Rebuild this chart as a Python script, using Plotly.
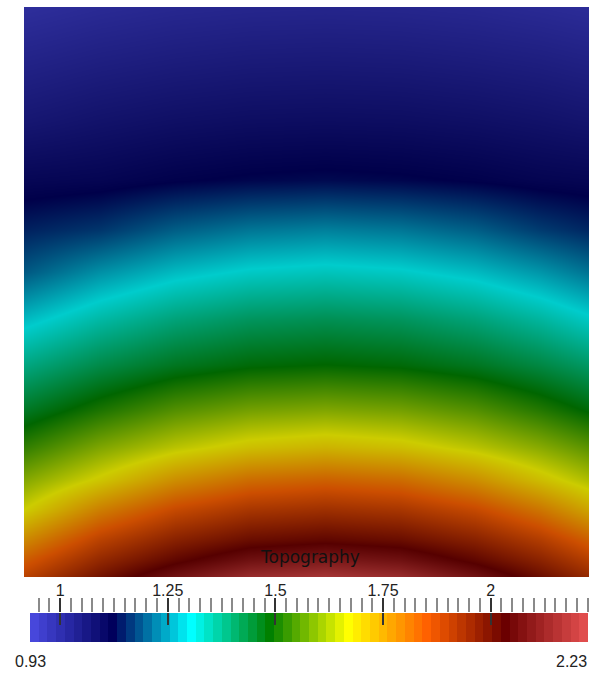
import numpy as np
import plotly.graph_objects as go

# Topography field, sampled off the render on a coarse grid
# (columns left -> right, rows bottom -> top)
x_dist = [0, 76, 151, 226, 301, 376, 451, 516, 565]
y_height = [0, 17, 37, 67, 97, 130, 167, 212, 257, 305, 347, 397, 457, 517, 570]
topo = [
    [1.887, 1.998, 2.097, 2.174, 2.200, 2.174, 2.097, 2.010, 1.944],
    [1.836, 1.947, 2.027, 2.092, 2.117, 2.092, 2.027, 1.959, 1.894],
    [1.771, 1.887, 1.964, 2.012, 2.028, 2.012, 1.964, 1.899, 1.832],
    [1.672, 1.787, 1.869, 1.915, 1.930, 1.915, 1.869, 1.800, 1.731],
    [1.605, 1.682, 1.763, 1.813, 1.829, 1.813, 1.763, 1.695, 1.643],
    [1.529, 1.600, 1.653, 1.691, 1.707, 1.691, 1.653, 1.608, 1.566],
    [1.452, 1.511, 1.561, 1.591, 1.602, 1.591, 1.561, 1.518, 1.480],
    [1.369, 1.420, 1.457, 1.479, 1.487, 1.479, 1.457, 1.425, 1.395],
    [1.285, 1.338, 1.378, 1.403, 1.412, 1.403, 1.378, 1.344, 1.310],
    [1.195, 1.246, 1.284, 1.307, 1.316, 1.307, 1.284, 1.251, 1.219],
    [1.145, 1.164, 1.201, 1.223, 1.232, 1.223, 1.201, 1.169, 1.150],
    [1.095, 1.100, 1.112, 1.120, 1.124, 1.120, 1.112, 1.102, 1.098],
    [1.042, 1.056, 1.066, 1.072, 1.074, 1.072, 1.066, 1.058, 1.050],
    [1.002, 1.015, 1.024, 1.030, 1.032, 1.030, 1.024, 1.017, 1.009],
    [0.966, 0.979, 0.988, 0.993, 0.995, 0.993, 0.988, 0.980, 0.973],
]

z_min, z_max = 0.93, 2.226
n_bands = 64

# "Rainbow Desaturated" lookup table
rainbow_rgb = [
    (71, 71, 219), (0, 0, 92), (0, 255, 255), (0, 128, 0),
    (255, 255, 0), (255, 97, 0), (107, 0, 0), (224, 77, 77),
]


def make_scale(rgb_list, shade=1.0):
    n = len(rgb_list) - 1
    return [[i / n, "rgb({},{},{})".format(*[round(c * shade) for c in rgb])]
            for i, rgb in enumerate(rgb_list)]


bar_scale = make_scale(rainbow_rgb)
# surface is lit in the render, so it looks darker than the bar
surf_scale = make_scale(rainbow_rgb, shade=0.8)

fig = go.Figure()

fig.add_trace(go.Heatmap(
    x=x_dist, y=y_height, z=topo,
    zsmooth='best', colorscale=surf_scale,
    zmin=z_min, zmax=z_max, showscale=False, hoverinfo='skip'
))

# discrete colour legend drawn as a one-row heatmap
band_w = (z_max - z_min) / n_bands
fig.add_trace(go.Heatmap(
    x0=z_min + band_w / 2, dx=band_w, y=[0],
    z=[np.linspace(z_min, z_max, n_bands)],
    colorscale=bar_scale, zmin=z_min, zmax=z_max,
    showscale=False, hoverinfo='skip',
    xaxis='x2', yaxis='y2'
))
fig.add_trace(go.Scatter(x=[], y=[], xaxis='x3', yaxis='y2', showlegend=False))

W, H = 589, 673
tick_font = dict(family='Liberation Sans, Arial, sans-serif', size=16, color='#222')

fig.update_layout(
    width=W, height=H,
    margin=dict(l=0, r=0, t=0, b=0),
    paper_bgcolor='white', plot_bgcolor='white',
    showlegend=False,
    xaxis=dict(domain=[24 / W, 1], range=[0, 565], visible=False),
    yaxis=dict(domain=[96 / H, 666 / H], range=[0, 570], visible=False),
    # ticks above the bar (major + minor)
    xaxis2=dict(
        domain=[30 / W, 588 / W], anchor='y2', range=[z_min, z_max],
        side='top', tick0=1, dtick=0.25,
        ticks='outside', ticklen=14, tickwidth=1.5, tickcolor='#333',
        minor=dict(tick0=1, dtick=0.025, ticks='outside', ticklen=14,
                   tickwidth=1.5, tickcolor='#8a8a8a'),
        showticklabels=False,
        showgrid=False, zeroline=False, showline=False
    ),
    # major ticks running into the bar, plus the labels
    xaxis3=dict(
        overlaying='x2', anchor='y2', range=[z_min, z_max],
        side='top', tick0=1, dtick=0.25,
        ticks='inside', ticklen=12, tickwidth=1.5, tickcolor='#333',
        ticklabelstandoff=13, tickfont=tick_font,
        showgrid=False, zeroline=False, showline=False
    ),
    yaxis2=dict(domain=[31 / H, 60 / H], anchor='x2', range=[-0.5, 0.5], visible=False),
    annotations=[
        dict(text='Topography', x=310 / W, y=(H - 557) / H, xref='paper', yref='paper',
             showarrow=False, xanchor='center', yanchor='middle',
             font=dict(family='DejaVu Sans', size=17, color='#111')),
        dict(text='0.93', x=30 / W, y=(H - 661) / H, xref='paper', yref='paper',
             showarrow=False, xanchor='center', yanchor='middle', font=tick_font),
        dict(text='2.23', x=589 / W, y=(H - 661) / H, xref='paper', yref='paper',
             showarrow=False, xanchor='right', yanchor='middle', font=tick_font),
    ],
)

fig.write_html(
    "out.html",
    config={'displayModeBar': False},
    post_script="document.body.style.margin='0';document.body.style.overflow='hidden';"
)
